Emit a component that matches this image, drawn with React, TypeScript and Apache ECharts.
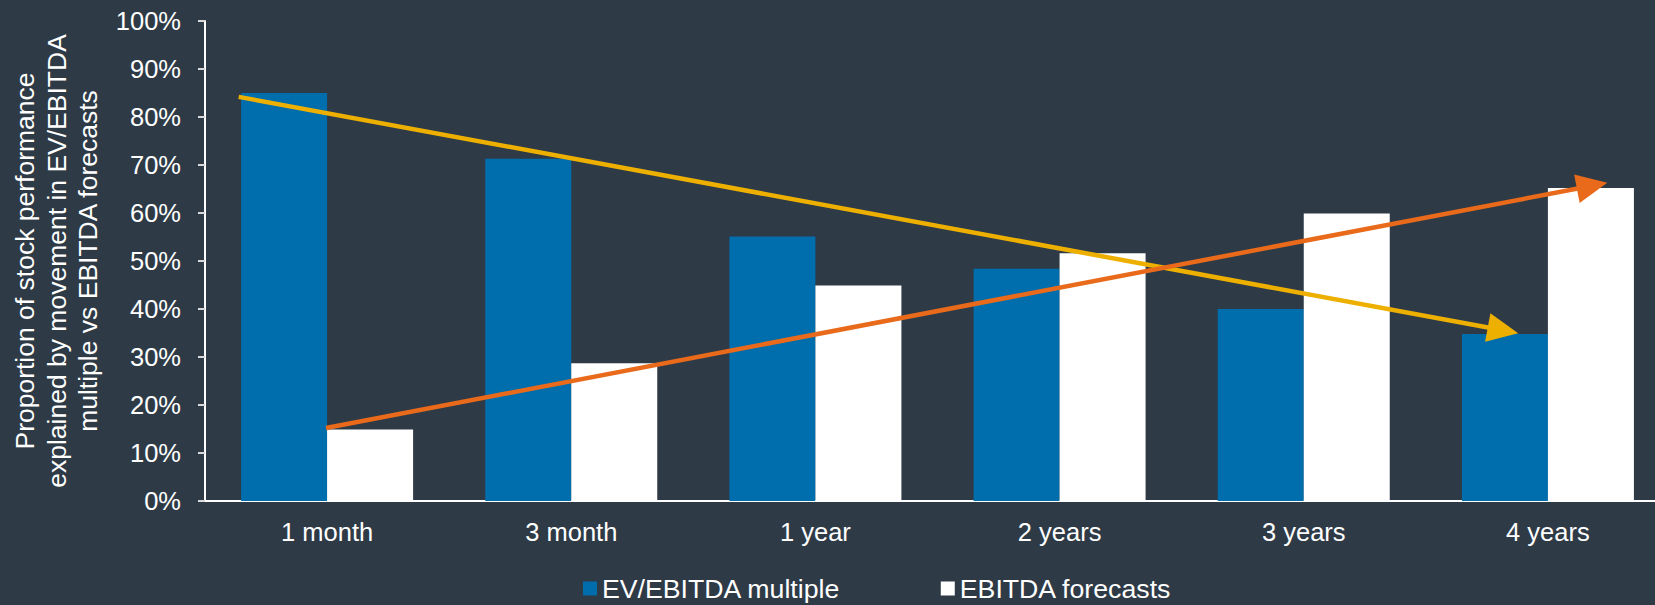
import React, { useEffect, useRef } from "react";
import * as echarts from "echarts";

const categories = ["1 month", "3 month", "1 year", "2 years", "3 years", "4 years"];
const evEbitdaMultiple = [85, 71.3, 55.1, 48.4, 40, 34.8];
const ebitdaForecasts = [14.9, 28.7, 44.9, 51.6, 59.9, 65.2];
// trend arrows, in [category position, percent] on a hidden 0..6 value axis
const multipleTrend = [
  [0.138, 84.2],
  [5.316, 35.56],
];
const forecastTrend = [
  [0.4955, 15.2],
  [5.681, 65.67],
];

const BG = "#2E3A46";
const FONT = "'Liberation Sans', Arial, sans-serif";

export default function App() {
  const ref = useRef<HTMLDivElement>(null);
  useEffect(() => {
    document.body.style.margin = "0";
    document.body.style.overflow = "hidden";
    document.body.style.background = BG;
    const chart = echarts.init(ref.current!, null, { renderer: "svg" });
    const arrow = (name: string, pts: number[][], color: string) => ({
      name,
      type: "line",
      xAxisIndex: 1,
      yAxisIndex: 0,
      data: pts,
      showSymbol: false,
      symbol: "none",
      lineStyle: { opacity: 0, width: 0 },
      silent: true,
      z: 5,
      markLine: {
        silent: true,
        animation: false,
        symbol: ["none", "triangle"],
        symbolSize: [29, 31],
        label: { show: false },
        lineStyle: { color, width: 4.5, type: "solid", opacity: 1 },
        emphasis: { disabled: true },
        data: [[{ coord: pts[0] }, { coord: pts[1] }]],
      },
    });
    chart.setOption({
      animation: false,
      backgroundColor: BG,
      textStyle: { fontFamily: FONT },
      grid: { left: 205, top: 21, right: -15, bottom: 104, containLabel: false, outerBoundsMode: "none" },
      legend: {
        data: ["EV/EBITDA multiple", "EBITDA forecasts"],
        left: 578,
        top: 570,
        icon: "rect",
        itemWidth: 14,
        itemHeight: 14,
        itemGap: 100,
        textStyle: { color: "#ffffff", fontSize: 26.7, fontFamily: FONT },
        selectedMode: false,
      },
      xAxis: [
        {
          type: "category",
          data: categories,
          axisLine: { lineStyle: { color: "#ffffff", width: 2 } },
          axisTick: { show: false },
          axisLabel: { color: "#ffffff", fontSize: 25.5, margin: 18, fontFamily: FONT },
        },
        { type: "value", min: 0, max: 6, show: false },
      ],
      yAxis: {
        type: "value",
        min: 0,
        max: 100,
        interval: 10,
        name: "Proportion of stock performance\nexplained by movement in EV/EBITDA\nmultiple vs EBITDA forecasts",
        nameLocation: "middle",
        nameRotate: 90,
        nameGap: 101,
        nameTextStyle: { color: "#ffffff", fontSize: 26.5, lineHeight: 31.5, align: "center", fontFamily: FONT },
        axisLine: { show: true, lineStyle: { color: "#ffffff", width: 2 } },
        axisTick: { show: true, length: 7, lineStyle: { color: "#d9d9d9", width: 2 } },
        splitLine: { show: false },
        axisLabel: { color: "#ffffff", fontSize: 25.5, margin: 24, formatter: "{value}%", fontFamily: FONT },
      },
      series: [
        {
          name: "EV/EBITDA multiple",
          type: "bar",
          data: evEbitdaMultiple,
          barWidth: 86,
          barGap: "0%",
          itemStyle: { color: "#006DAD" },
        },
        {
          name: "EBITDA forecasts",
          type: "bar",
          data: ebitdaForecasts,
          barWidth: 86,
          barGap: "0%",
          itemStyle: { color: "#ffffff" },
        },
        arrow("multipleTrend", multipleTrend, "#EEB000"),
        arrow("forecastTrend", forecastTrend, "#E86A1A"),
      ],
    });
    return () => chart.dispose();
  }, []);
  return <div ref={ref} style={{ width: 1655, height: 605 }} />;
}
